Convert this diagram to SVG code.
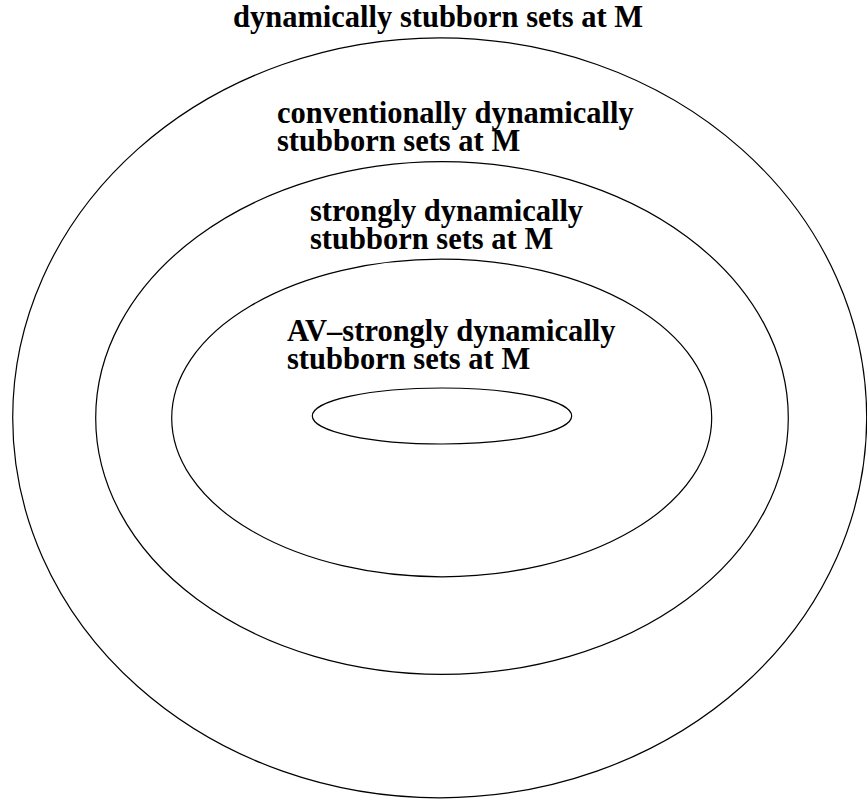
<svg xmlns="http://www.w3.org/2000/svg" width="867" height="801" viewBox="0 0 867 801">
<style>
.e{fill:none;stroke:#000;stroke-width:1.2}
.t{font-family:"Liberation Serif","Times New Roman",serif;font-weight:bold;font-size:30.5px;fill:#000}
</style>
<rect width="867" height="801" fill="#fff"/>
<g id="outer">
<ellipse class="e" cx="439.7" cy="417.8" rx="427" ry="380"/>
<text class="t" x="233" y="27">dynamically stubborn sets at M</text>
</g>
<g id="conventional">
<ellipse class="e" cx="442" cy="418" rx="346.3" ry="256.3"/>
<text class="t" x="277" y="123">conventionally dynamically</text>
<text class="t" x="277" y="151">stubborn sets at M</text>
</g>
<g id="strong">
<ellipse class="e" cx="441.7" cy="418" rx="270" ry="158.8"/>
<text class="t" x="310" y="221">strongly dynamically</text>
<text class="t" x="310" y="249">stubborn sets at M</text>
</g>
<g id="avstrong">
<ellipse class="e" cx="442" cy="416" rx="129.7" ry="28"/>
<text class="t" x="287" y="341">AV&#8211;strongly dynamically</text>
<text class="t" x="287" y="369">stubborn sets at M</text>
</g>
<g id="connectors"/>
</svg>
